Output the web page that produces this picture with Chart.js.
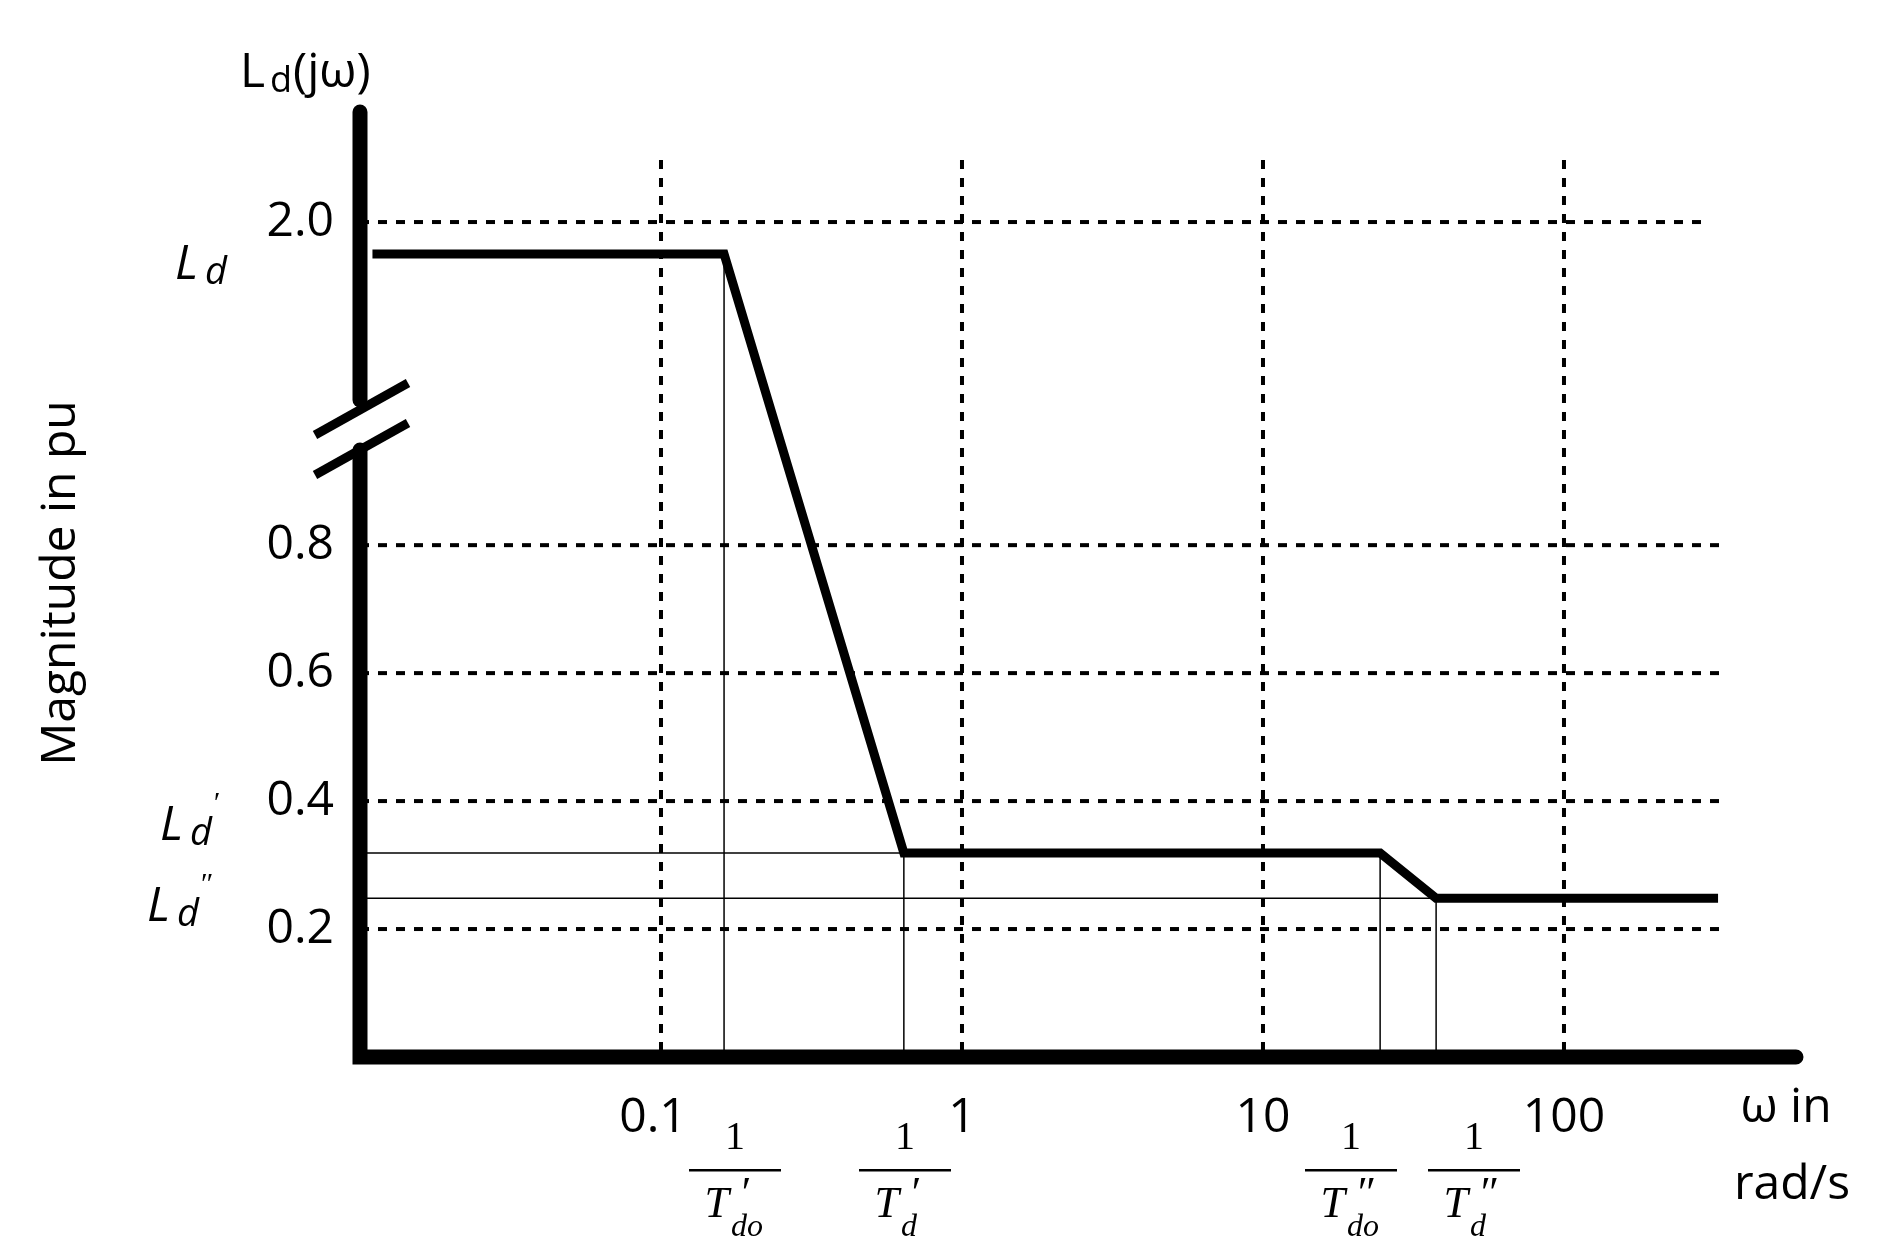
<!DOCTYPE html><html><head><meta charset="utf-8">
<script src="https://cdn.jsdelivr.net/npm/chart.js@4"></script>
<style>body{margin:0;background:#fff}</style></head><body>
<canvas id="c" width="1896" height="1254"></canvas>
<script>
// frequency breakpoints (rad/s) and magnitude (position on broken axis)
const omega = [0.011, 0.162, 0.641, 24.5, 37.6, 325];
const magnitude = [1.255, 1.255, 0.319, 0.319, 0.248, 0.248];
const xTicks = [0.1, 1, 10, 100];
const xTickLabels = ['0.1', '1', '10', '100'];
const yTicks = [0.2, 0.4, 0.6, 0.8, 1.305];
const yTickLabels = ['0.2', '0.4', '0.6', '0.8', '2.0'];

const F = '"Open Sans", "DejaVu Sans", sans-serif';
const plugin = {
  id: 'deco',
  beforeDatasetsDraw(ch) {
    const c = ch.ctx, x = ch.scales.x, y = ch.scales.y, a = ch.chartArea;
    c.save();
    c.strokeStyle = '#000'; c.lineWidth = 4; c.setLineDash([9, 9]);
    xTicks.forEach(v => { const px = x.getPixelForValue(v); c.beginPath(); c.moveTo(px, 160); c.lineTo(px, a.bottom); c.stroke(); });
    yTicks.forEach((v, i) => { const py = y.getPixelForValue(v); c.beginPath(); c.moveTo(a.left, py); c.lineTo(i == 4 ? 1707 : 1719, py); c.stroke(); });
    c.setLineDash([]); c.lineWidth = 1.5;
    [1, 2, 3, 4].forEach(i => { const px = x.getPixelForValue(omega[i]); c.beginPath(); c.moveTo(px, y.getPixelForValue(magnitude[i])); c.lineTo(px, a.bottom); c.stroke(); });
    [2, 4].forEach(i => { const py = y.getPixelForValue(magnitude[i]); c.beginPath(); c.moveTo(a.left, py); c.lineTo(x.getPixelForValue(omega[i]), py); c.stroke(); });
    c.restore();
  },
  afterDatasetsDraw(ch) {
    const c = ch.ctx, x = ch.scales.x, y = ch.scales.y, a = ch.chartArea;
    c.save();
    c.lineCap = 'round'; c.lineWidth = 15; c.strokeStyle = '#000';
    c.beginPath(); c.moveTo(a.left, 112); c.lineTo(a.left, 400); c.stroke();
    c.beginPath(); c.moveTo(a.left, 450); c.lineTo(a.left, a.bottom); c.lineTo(1796, a.bottom); c.stroke();
    c.lineCap = 'butt'; c.lineWidth = 9;
    c.beginPath(); c.moveTo(315, 435); c.lineTo(408, 383); c.stroke();
    c.beginPath(); c.moveTo(315, 475); c.lineTo(408, 423); c.stroke();
    c.fillStyle = '#000'; c.font = '48px ' + F; c.textBaseline = 'middle';
    c.textAlign = 'right';
    yTicks.forEach((v, i) => c.fillText(yTickLabels[i], 334, y.getPixelForValue(v)));
    c.textAlign = 'center';
    xTicks.forEach((v, i) => c.fillText(xTickLabels[i], x.getPixelForValue(v) + (i == 0 ? -8 : 0), 1118));
    c.fillText('ω in', 1786, 1108); c.fillText('rad/s', 1792, 1185);
    c.textAlign = 'left'; c.fillText('L', 240, 73);
    c.font = '36px ' + F; c.fillText('d', 270, 82);
    c.font = '48px ' + F; c.fillText('(jω)', 293, 73);
    c.save(); c.translate(61, 583); c.rotate(-Math.PI / 2); c.textAlign = 'center'; c.fillText('Magnitude in pu', 0, 0); c.restore();
    // L labels
    c.font = 'italic 48px ' + F; c.textAlign = 'left';
    const L = (t, sup, px, py) => { c.font = 'italic 48px ' + F; c.fillText('L', px, py); c.font = 'italic 38px ' + F; c.fillText('d', px + 30, py + 8); if (sup) { c.font = 'italic 30px "Liberation Serif"'; c.fillText(sup, px + 52, py - 22); } };
    L('', '', 175, 265); L('', '′', 160, 826); L('', '″', 147, 907);
    // fractions
    const frac = (cx, sub, prime) => {
      c.textAlign = 'center'; c.font = '40px "Liberation Serif"'; c.fillText('1', cx, 1138);
      c.fillRect(cx - 46, 1169, 92, 2.5);
      c.font = 'italic 44px "Liberation Serif"'; c.textAlign = 'right'; c.fillText('T', cx - 6, 1205);
      c.textAlign = 'left'; c.fillText(prime, cx + 4, 1195);
      c.font = 'italic 32px "Liberation Serif"'; c.fillText(sub, cx - 4, 1228);
    };
    frac(735, 'do', '′'); frac(905, 'd', '′'); frac(1351, 'do', '″'); frac(1474, 'd', '″');
    c.restore();
  }
};
new Chart(document.getElementById('c'), {
  type: 'line',
  data: { datasets: [{ data: omega.map((w, i) => ({ x: w, y: magnitude[i] })), borderColor: '#000', borderWidth: 9, pointRadius: 0, tension: 0, borderJoinStyle: 'miter' }] },
  options: {
    responsive: false, devicePixelRatio: 1, animation: false,
    layout: { padding: { left: 360, right: 100, top: 112, bottom: 197 } },
    plugins: { legend: { display: false }, tooltip: { enabled: false } },
    scales: {
      x: { type: 'logarithmic', min: 0.01, max: 590, display: false },
      y: { type: 'linear', min: 0, max: 1.477, display: false }
    }
  },
  plugins: [plugin]
});
</script></body></html>
